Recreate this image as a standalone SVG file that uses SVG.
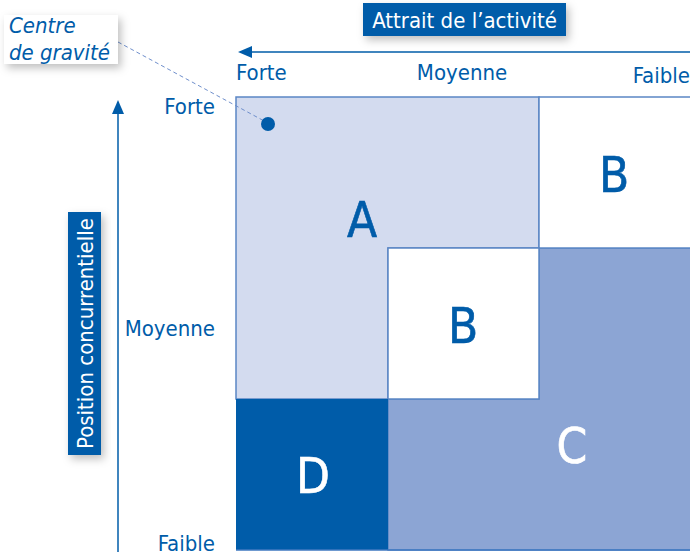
<svg xmlns="http://www.w3.org/2000/svg" width="690" height="556" viewBox="0 0 690 556">
<style>
.lbl{font-family:"DejaVu Sans Condensed","DejaVu Sans",sans-serif;font-size:22px;fill:#005ca9}
.big{font-family:"DejaVu Sans Condensed","DejaVu Sans",sans-serif;font-size:49px;text-anchor:middle;stroke-width:0.6}
.blue{fill:#005ca9;stroke:#005ca9}
.white{fill:#ffffff;stroke:#ffffff}
.cell{stroke:#5b87c5;stroke-width:1.5}
.axis{stroke:#005ca9;stroke-width:1.5;fill:none}
.title{font-family:"DejaVu Sans Condensed","DejaVu Sans",sans-serif;font-size:22px;fill:#ffffff}
</style>
<defs>
<filter id="sh" x="-20%" y="-20%" width="150%" height="160%">
<feDropShadow dx="3" dy="4" stdDeviation="4" flood-color="#000" flood-opacity="0.25"/>
</filter>
<marker id="ah" viewBox="0 0 14 12" refX="1" refY="6" markerWidth="14" markerHeight="12" markerUnits="userSpaceOnUse" orient="auto-start-reverse">
<path d="M0,0 L14,6 L0,12 Z" fill="#005ca9"/>
</marker>
</defs>
<rect width="690" height="556" fill="#ffffff"/>

<g id="cell-A">
<path class="cell" d="M236,97 H539 V248 H388 V399 H236 Z" fill="#d3dbef"/>
<text class="big blue" x="362" y="237">A</text>
</g>
<g id="cell-C">
<path class="cell" d="M539,248 H692 V550 H388 V399 H539 Z" fill="#8ca5d4"/>
<text class="big white" x="572" y="463">C</text>
</g>
<g id="cell-B-top">
<rect class="cell" x="539" y="97" width="153" height="151" fill="#ffffff"/>
<text class="big blue" x="614" y="192">B</text>
</g>
<g id="cell-B-mid">
<rect class="cell" x="388" y="248" width="151" height="151" fill="#ffffff"/>
<text class="big blue" x="463" y="343">B</text>
</g>
<g id="cell-D">
<rect x="236" y="399" width="152" height="151" fill="#005ca9"/>
<text class="big white" x="313" y="493">D</text>
</g>
<line x1="236" y1="550" x2="690" y2="550" stroke="#3f78c0" stroke-width="1.5"/>

<g id="connectors">
<line class="axis" x1="690" y1="52" x2="251" y2="52" marker-end="url(#ah)"/>
<line class="axis" x1="118" y1="552" x2="118" y2="113" marker-end="url(#ah)"/>
<line x1="118" y1="42" x2="266" y2="122" stroke="#6f8fcc" stroke-width="1" stroke-dasharray="4,3"/>
</g>

<g id="centre-dot">
<circle cx="268" cy="124" r="7" fill="#005ca9"/>
</g>

<g id="axis-x-labels">
<text class="lbl" x="236" y="80">Forte</text>
<text class="lbl" x="462" y="80" text-anchor="middle">Moyenne</text>
<text class="lbl" x="690" y="83" text-anchor="end">Faible</text>
</g>
<g id="axis-y-labels">
<text class="lbl" x="215" y="114" text-anchor="end">Forte</text>
<text class="lbl" x="215" y="336" text-anchor="end">Moyenne</text>
<text class="lbl" x="215" y="551" text-anchor="end">Faible</text>
</g>

<g id="title-x">
<rect x="363" y="3" width="203" height="33" fill="#005ca9" filter="url(#sh)"/>
<text class="title" x="464.5" y="28" text-anchor="middle">Attrait de l’activité</text>
</g>
<g id="title-y">
<rect x="68" y="212" width="33" height="243" fill="#005ca9" filter="url(#sh)"/>
<text class="title" transform="translate(93,333.5) rotate(-90)" text-anchor="middle" font-size="21.5">Position concurrentielle</text>
</g>
<g id="centre-label">
<rect x="4" y="15" width="114" height="49" fill="#ffffff" filter="url(#sh)"/>
<text class="lbl" x="9" y="33" font-style="italic" font-size="20">Centre</text>
<text class="lbl" x="9" y="60" font-style="italic" font-size="20">de gravité</text>
</g>
</svg>
